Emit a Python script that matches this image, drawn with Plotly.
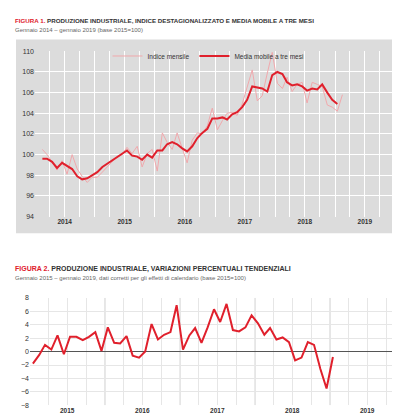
import plotly.graph_objects as go
import pandas as pd

months1 = pd.date_range("2014-01-15", periods=61, freq="MS") + pd.Timedelta(days=14)
indice = [100.5,100.0,99.3,98.5,99.4,98.1,100.0,98.6,97.9,97.3,97.8,97.8,
          98.3,98.8,99.3,99.8,100.0,100.7,100.1,100.8,98.8,100.1,100.5,98.4,
          102.1,101.2,100.5,102.1,100.6,99.2,101.4,102.1,102.0,102.8,104.5,102.4,
          103.3,104.0,104.1,103.8,104.9,106.5,108.2,105.2,105.7,107.9,109.9,106.9,
          106.4,107.5,106.1,106.8,107.0,105.0,107.0,106.8,106.6,104.8,104.6,104.2,105.8]
media = [99.6,99.6,99.3,98.7,99.2,98.9,98.6,97.9,97.6,97.7,98.0,98.3,
         98.8,99.1,99.5,99.8,100.1,100.4,99.9,99.8,99.5,100.0,99.7,100.4,
         100.4,101.0,101.2,101.0,100.6,100.3,100.8,101.6,102.1,102.5,103.5,103.5,
         103.6,103.4,103.9,104.1,104.6,105.3,106.6,106.5,106.4,106.1,107.7,108.0,
         107.8,107.0,106.7,106.8,106.6,106.2,106.4,106.3,106.8,106.0,105.3,104.9]
months2 = pd.date_range("2015-01-01", periods=49, freq="MS") + pd.Timedelta(days=14)
variazioni = [-1.8,-0.5,1.0,0.3,2.4,-0.4,2.2,2.2,1.7,2.2,2.9,0.1,
              3.6,1.3,1.2,2.3,-0.6,-0.9,0.0,4.1,1.8,2.5,2.9,6.9,
              0.3,2.4,3.5,1.3,3.6,6.3,4.4,7.1,3.2,3.0,3.6,5.4,
              4.2,2.5,3.5,1.8,2.1,1.4,-1.3,-0.9,1.4,1.0,-2.6,-5.5,-0.8]
years1 = ["2014","2015","2016","2017","2018","2019"]
years2 = ["2015","2016","2017","2018","2019"]

FONT = "Liberation Sans, Arial"
RED = "#e0202c"
fig = go.Figure()
fig.add_trace(go.Scatter(x=months1, y=indice, mode="lines", name="Indice mensile",
                         line=dict(color="#f0a8ac", width=1), xaxis="x", yaxis="y"))
fig.add_trace(go.Scatter(x=months1[:len(media)], y=media, mode="lines", name="Media mobile a tre mesi",
                         line=dict(color=RED, width=2), xaxis="x", yaxis="y"))
fig.add_trace(go.Scatter(x=months2, y=variazioni, mode="lines", showlegend=False,
                         line=dict(color=RED, width=2), xaxis="x2", yaxis="y2"))

ymid1 = [pd.Timestamp(f"{y}-07-01") for y in years1]
ymid2 = [pd.Timestamp(f"{y}-07-01") for y in years2]
tickf = dict(family=FONT, size=7, color="#333")

fig.update_layout(
    width=400, height=418, margin=dict(l=0, r=0, t=0, b=0),
    paper_bgcolor="white", plot_bgcolor="rgba(0,0,0,0)",
    font=dict(family=FONT),
    shapes=[dict(type="rect", xref="paper", yref="paper", x0=8/400, x1=392/400,
                 y0=1-225/418, y1=1-28/418, fillcolor="#dcdcdc", line=dict(width=0), layer="below")],
    xaxis=dict(domain=[27/400, 387/400], anchor="y", type="date",
               range=["2014-01-01", "2020-01-01"], tickvals=ymid1, ticktext=[f"<b>{y}</b>" for y in years1],
               tickfont=dict(family=FONT, size=6.5, color="#333"), showgrid=False,
               minor=dict(dtick="M3", showgrid=True, gridcolor="white", gridwidth=1, tick0="2014-01-01"),
               showline=False, zeroline=False, ticks=""),
    yaxis=dict(domain=[1-208/418, 1-40/418], anchor="x", range=[94, 110], dtick=2,
               gridcolor="white", gridwidth=1, tickfont=tickf, zeroline=False, ticks=""),
    xaxis2=dict(domain=[22/400, 397/400], anchor="y2", type="date",
                range=["2015-01-01", "2020-01-01"], tickvals=ymid2, ticktext=[f"<b>{y}</b>" for y in years2],
                tickfont=dict(family=FONT, size=6.5, color="#333"), showgrid=False,
                minor=dict(dtick="M3", showgrid=True, gridcolor="#e6e6e6", gridwidth=1, tick0="2015-01-01"),
                showline=False, zeroline=False, ticks=""),
    yaxis2=dict(domain=[1-400/418, 1-290.7/418], anchor="x2", range=[-8, 8], dtick=2,
                gridcolor="#e6e6e6", gridwidth=1, tickfont=tickf, zeroline=True,
                zerolinecolor="#555", zerolinewidth=1, ticks=""),
    legend=dict(orientation="h", x=0.5, xanchor="center", y=1-30/418, yanchor="top",
                font=dict(family=FONT, size=6.5, color="#333"), bgcolor="rgba(0,0,0,0)"),
    annotations=[
        dict(xref="paper", yref="paper", x=5/400, y=1-3/418, xanchor="left", yanchor="top", showarrow=False,
             text=f"<b><span style='color:{RED}'>FIGURA 1.</span> PRODUZIONE INDUSTRIALE, INDICE DESTAGIONALIZZATO E MEDIA MOBILE A TRE MESI</b>",
             font=dict(family=FONT, size=6.2, color="#333")),
        dict(xref="paper", yref="paper", x=5/400, y=1-13/418, xanchor="left", yanchor="top", showarrow=False,
             text="Gennaio 2014 – gennaio 2019 (base 2015=100)", font=dict(family=FONT, size=6, color="#666")),
        dict(xref="paper", yref="paper", x=5/400, y=1-255/418, xanchor="left", yanchor="top", showarrow=False,
             text=f"<b><span style='color:{RED}'>FIGURA 2.</span> PRODUZIONE INDUSTRIALE, VARIAZIONI PERCENTUALI TENDENZIALI</b>",
             font=dict(family=FONT, size=7, color="#333")),
        dict(xref="paper", yref="paper", x=5/400, y=1-265/418, xanchor="left", yanchor="top", showarrow=False,
             text="Gennaio 2015 – gennaio 2019, dati corretti per gli effetti di calendario (base 2015=100)",
             font=dict(family=FONT, size=6, color="#666")),
    ],
)
for yr in years2[1:]:
    fig.add_shape(type="line", xref="x2", yref="y2", x0=f"{yr}-01-01", x1=f"{yr}-01-01", y0=-8, y1=8,
                  line=dict(color="#cccccc", width=1), layer="below")
fig.write_html("out.html")
